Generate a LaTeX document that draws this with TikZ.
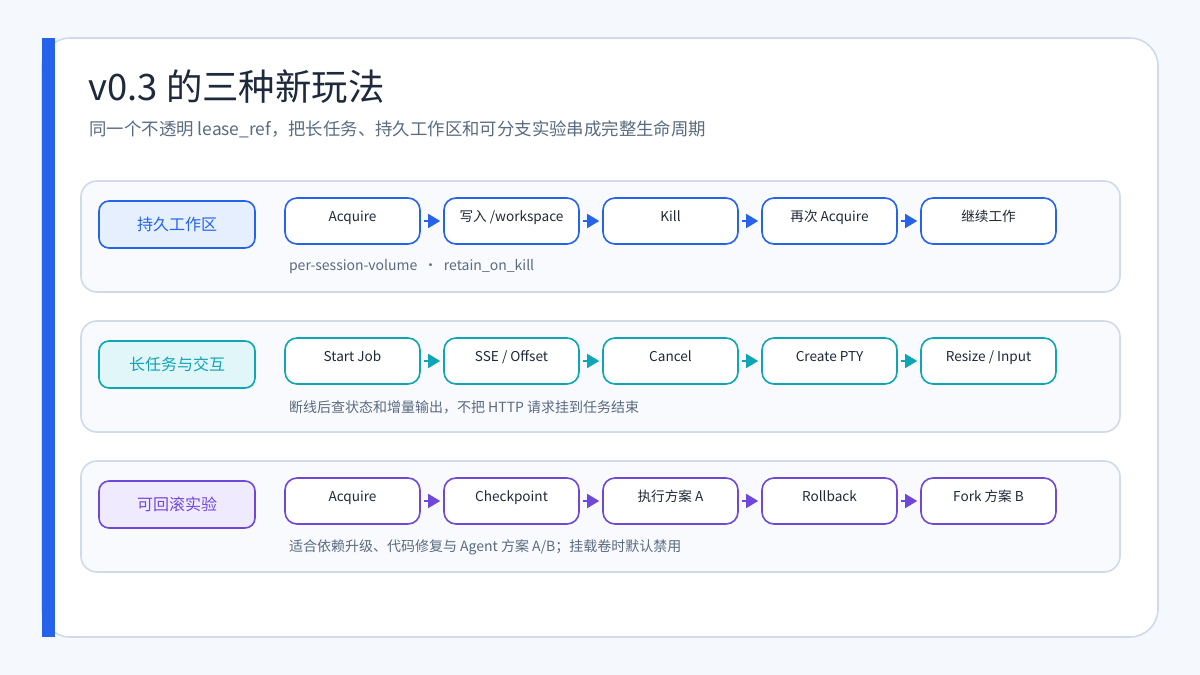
\documentclass[tikz,border=0pt]{standalone}
\usepackage{fontspec}
\setmainfont{Noto Sans CJK SC}
\usetikzlibrary{arrows.meta,positioning}
\definecolor{pagebg}{HTML}{F5F8FC}
\definecolor{cardline}{HTML}{D0DAE8}
\definecolor{rowbg}{HTML}{F8FAFD}
\definecolor{titlec}{HTML}{1E293B}
\definecolor{subc}{HTML}{5A6B80}
\definecolor{stepc}{HTML}{1F2937}
\definecolor{blueA}{HTML}{2563EB}
\definecolor{blueF}{HTML}{E6EFFD}
\definecolor{tealA}{HTML}{0EA5B4}
\definecolor{tealF}{HTML}{E0F6F8}
\definecolor{purpA}{HTML}{7048D8}
\definecolor{purpF}{HTML}{EFEAFD}
\tikzset{
  row/.style={draw=cardline, fill=rowbg, line width=0.8pt, rounded corners=8pt},
  tag/.style={draw=#1, line width=0.8pt, rounded corners=5pt, minimum width=78pt, minimum height=23.5pt, font=\fontsize{8}{8}\selectfont, text=#1},
  step/.style={draw=#1, fill=white, line width=0.8pt, rounded corners=6pt, minimum width=67.5pt, minimum height=23pt, font=\fontsize{6.8}{7}\selectfont, text=stepc, text depth=5pt},
  link/.style={draw=#1, line width=0.8pt, -{Triangle[length=6pt,width=7pt]}, fill=#1, shorten <=1.5pt, shorten >=1.5pt},
  note/.style={anchor=west, font=\fontsize{7}{7}\selectfont, text=subc}
}
\begin{document}
\begin{tikzpicture}[x=0.5pt,y=-0.5pt]
  \fill[pagebg] (0,0) rectangle (1200,675);
  \useasboundingbox (0,0) rectangle (1200,675);
  \draw[cardline, fill=white, line width=0.8pt, rounded corners=14pt] (42,38) rectangle (1158,637);
  \fill[blueA] (42,38) rectangle (55,637);
  \node[anchor=base west, inner sep=0, font=\fontsize{18.2}{19}\selectfont, text=titlec] (title) at (88,100) {v0.3 的三种新玩法};
  \node[anchor=base west, inner sep=0, font=\fontsize{8.7}{9}\selectfont, text=subc] (subtitle) at (89,135) {同一个不透明 lease\_ref，把长任务、持久工作区和可分支实验串成完整生命周期};
  % three rows
  \foreach \r/\y/\ac/\fc/\lab/\steps/\txt in {
    1/181/blueA/blueF/持久工作区/{Acquire,写入 /workspace,Kill,再次 Acquire,继续工作}/{per-session-volume\ \ ·\ \ retain\_on\_kill},
    2/321/tealA/tealF/长任务与交互/{Start Job,SSE / Offset,Cancel,Create PTY,Resize / Input}/{断线后查状态和增量输出，不把 HTTP 请求挂到任务结束},
    3/461/purpA/purpF/可回滚实验/{Acquire,Checkpoint,执行方案 A,Rollback,Fork 方案 B}/{适合依赖升级、代码修复与 Agent 方案 A/B；挂载卷时默认禁用}} {
    \draw[row] (81,\y) rectangle (1120,\y+111);
    \node[tag=\ac, fill=\fc] (tag\r) at (177,\y+43.5) {\lab};
    \foreach \s [count=\i] in \steps {
      \node[step=\ac] (s\r\i) at (352.5+159*\i-159,\y+40) {\s};
    }
    \foreach \i [evaluate=\i as \j using int(\i+1)] in {1,...,4} {
      \draw[link=\ac] (s\r\i.east) -- (s\r\j.west);
    }
    \node[note] (note\r) at (282,\y+86) {\txt};
  }
\end{tikzpicture}
\end{document}
